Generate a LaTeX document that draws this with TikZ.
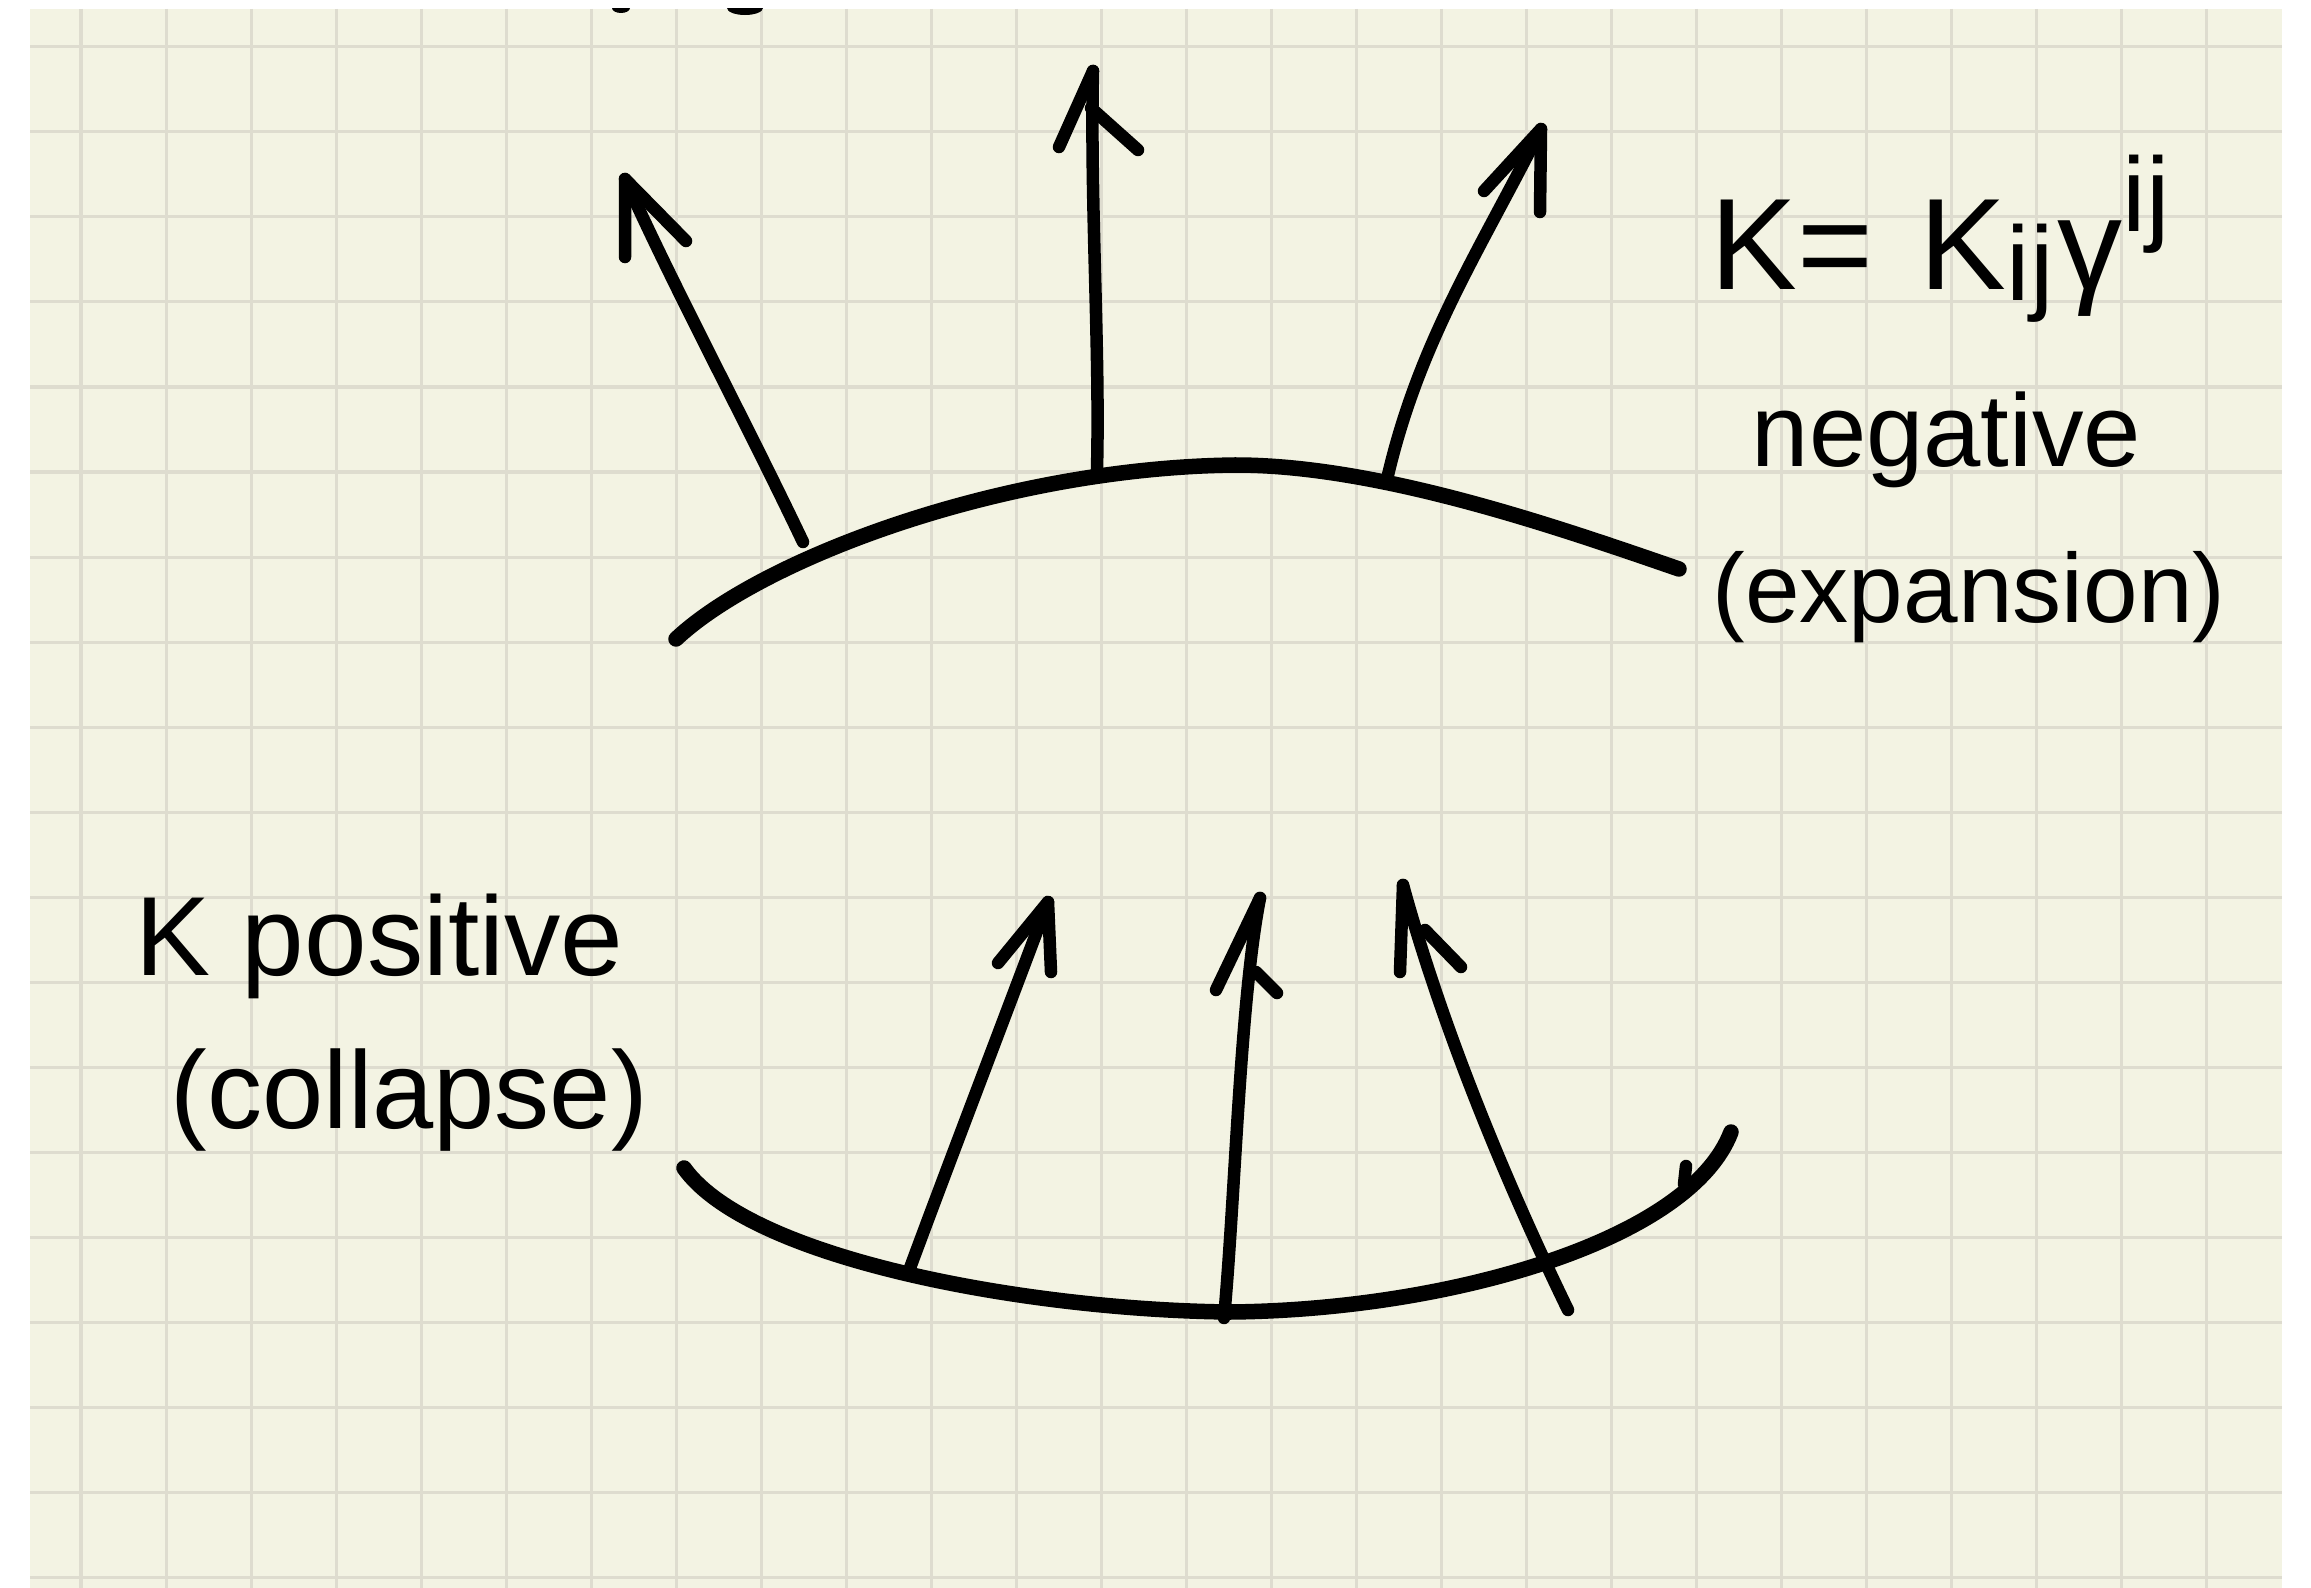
\documentclass[tikz,border=0pt]{standalone}
\usepackage{fontspec}
\setmainfont{Liberation Sans}
\definecolor{paper}{RGB}{243,243,227}
\definecolor{gridc}{RGB}{222,220,207}
\newcommand{\smallij}[1]{{\fontsize{30}{30}\selectfont #1}}
\begin{document}
\begin{tikzpicture}[x=0.01cm,y=-0.01cm,
  ink/.style={line width=0.125cm, line cap=round, line join=round, black},
  inkthick/.style={line width=0.155cm, line cap=round, line join=round, black},
  lbl/.style={inner sep=0pt, anchor=base west, black}]
\useasboundingbox (0,0) rectangle (2311,1588);
\fill[white] (0,0) rectangle (2311,1588);
\fill[paper] (30,9) rectangle (2282,1588);
\begin{scope}
  \clip (30,9) rectangle (2282,1588);
  \foreach \i in {0,...,25} \draw[gridc, line width=0.03cm] ({81+85*\i},9) -- ({81+85*\i},1588);
  \foreach \j in {0,...,18} \draw[gridc, line width=0.03cm] (30,{47+85*\j}) -- (2282,{47+85*\j});
  % cut-off marks at the top edge
  \fill[black] (621,8) ellipse [x radius=0.09cm, y radius=0.05cm];
  \fill[black] (745,8) ellipse [x radius=0.18cm, y radius=0.07cm];
\end{scope}

% ---------- upper surface (expansion) ----------
\draw[inkthick] (676,639) .. controls (760,560) and (1000,468) .. (1235,465)
                          .. controls (1380,465) and (1560,528) .. (1679,569);

\coordinate (a1b) at (803,542);  \coordinate (a1t) at (625,179);
\coordinate (a2b) at (1097,469); \coordinate (a2t) at (1093,71);
\coordinate (a3b) at (1388,475); \coordinate (a3t) at (1541,129);

\draw[ink] (a1b) .. controls (740,410) and (680,300) .. (a1t);
\draw[ink] (625,257) -- (a1t) -- (686,241);

\draw[ink] (a2b) .. controls (1100,350) and (1090,200) .. (a2t);
\draw[ink] (1059,147) -- (a2t);
\draw[ink] (1091,108) -- (1138,150);

\draw[ink] (a3b) .. controls (1420,340) and (1480,250) .. (a3t);
\draw[ink] (1484,191) -- (a3t) -- (1540,212);

% ---------- lower surface (collapse) ----------
\draw[inkthick] (684,1168) .. controls (750,1260) and (1030,1310) .. (1230,1312)
                           .. controls (1450,1310) and (1690,1240) .. (1731,1132);
\draw[ink] (1686,1166) -- (1684,1184);

\coordinate (b1b) at (910,1268);  \coordinate (b1t) at (1048,902);
\coordinate (b2b) at (1224,1318); \coordinate (b2t) at (1260,898);
\coordinate (b3b) at (1568,1310); \coordinate (b3t) at (1403,885);

\draw[ink] (b1b) .. controls (950,1160) and (1000,1030) .. (b1t);
\draw[ink] (998,963) -- (b1t) -- (1051,972);

\draw[ink] (b2b) .. controls (1235,1200) and (1240,1000) .. (b2t);
\draw[ink] (1216,990) -- (b2t);
\draw[ink] (1256,972) -- (1277,993);

\draw[ink] (b3b) .. controls (1500,1170) and (1440,1020) .. (b3t);
\draw[ink] (1400,972) -- (b3t);
\draw[ink] (1425,930) -- (1461,967);

% ---------- labels ----------
\node[lbl, font=\fontsize{37}{37}\selectfont] (kdef) at (1710,290)
  {K=\hspace{0.08em} K\raisebox{-0.08em}{\smallij{ij}}\hspace{0.03em}γ\raisebox{0.45em}{\smallij{ij}}};
\node[lbl, font=\fontsize{29.3}{29.3}\selectfont] (neg) at (1751,466) {negative};
\node[lbl, font=\fontsize{27.9}{27.9}\selectfont] (exp) at (1712,622) {(expansion)};

\node[lbl, font=\fontsize{32}{32}\selectfont] (pos) at (135,975) {K positive};
\node[lbl, font=\fontsize{31.3}{31.3}\selectfont] (col) at (170,1128) {(collapse)};
\end{tikzpicture}
\end{document}
